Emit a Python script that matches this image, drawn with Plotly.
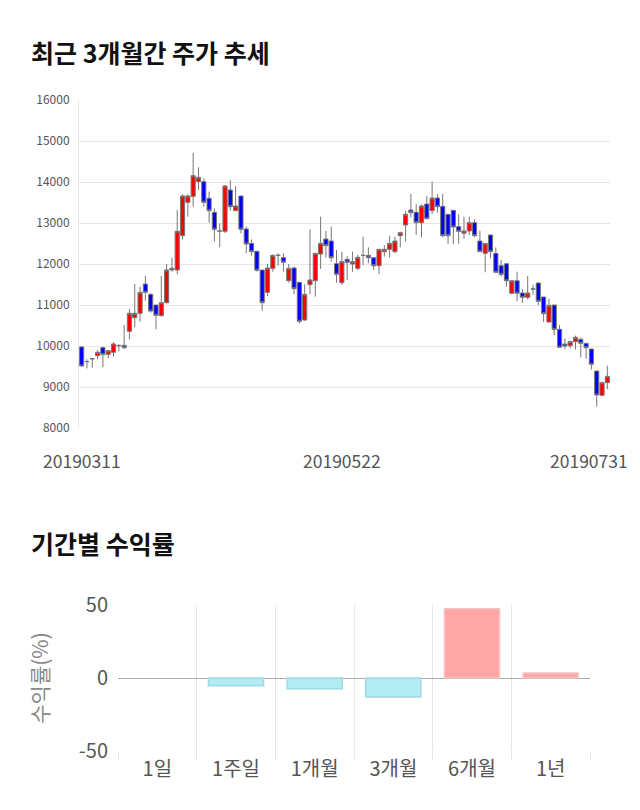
import pandas as pd
import plotly.graph_objects as go

# ---- candlestick data (KRW) ----
opens = [9976, 9620, 9690, 9764, 9960, 9797, 9846, 10008, 10016, 10358,
         10691, 10797, 11512, 11260, 11000, 10740, 11057, 11894, 11854, 12691,
         13504, 13650, 14008, 14008, 13602, 13260, 12805, 12797, 13805, 13301,
         13659, 12854, 12504, 12309, 11854, 11309, 11894, 12211, 12154, 11593,
         11902, 11553, 10634, 11496, 11593, 12244, 12610, 12561, 12008, 11545,
         12114, 12000, 11894, 12211, 12211, 12154, 11959, 12301, 12358, 12301,
         12691, 12951, 13317, 13260, 13008, 13463, 13301, 13610, 13406, 13211,
         13309, 12911, 12748, 12805, 13008, 12561, 12260, 12707, 12260, 11959,
         12008, 11285, 11593, 11293, 11187, 11390, 11537, 11195, 10585, 11000,
         10407, 10049, 10008, 10106, 10163, 10065, 9927, 9390, 8797, 9106]
highs = [10000, 9675, 9700, 9900, 9985, 9900, 10090, 10050, 10512, 10902,
         11512, 11447, 11707, 11285, 11000, 11707, 12000, 12154, 13317, 13700,
         13700, 14715, 14358, 14089, 13764, 13358, 12992, 13927, 14049, 13902,
         13659, 12911, 12602, 12309, 11854, 12000, 12236, 12260, 12260, 12000,
         11935, 11553, 11504, 12846, 12260, 13154, 12805, 12911, 12341, 12301,
         12195, 12301, 12220, 12667, 12406, 12154, 12358, 12463, 12691, 12667,
         12789, 13301, 13707, 13455, 13455, 13659, 14008, 13707, 13707, 13211,
         13309, 13211, 13154, 13154, 13089, 12813, 12504, 12707, 12406, 12098,
         12008, 11593, 11813, 11390, 11707, 11496, 11537, 11195, 11154, 11000,
         10512, 10187, 10130, 10252, 10203, 10065, 9927, 9390, 9130, 9520]
lows = [9500, 9455, 9470, 9675, 9480, 9700, 9740, 9870, 9927, 10163,
        10455, 10593, 11106, 10813, 10407, 10715, 11040, 11813, 11748, 12600,
        13154, 13398, 13805, 13398, 13008, 12553, 12406, 12756, 13301, 13301,
        12748, 12260, 12203, 11813, 10862, 11220, 11813, 11959, 11813, 11545,
        11260, 10553, 10618, 11260, 11203, 11878, 12154, 12057, 11545, 11488,
        11610, 11813, 11854, 11976, 12016, 11854, 11756, 12179, 12154, 12260,
        12406, 12545, 13138, 12707, 12650, 13089, 13220, 13252, 12650, 12488,
        12488, 12496, 12610, 12707, 12650, 12301, 11797, 12138, 11797, 11691,
        11447, 11285, 11089, 11049, 11138, 11252, 10992, 10585, 10585, 10260,
        9967, 9919, 9943, 9911, 9724, 9691, 9423, 8520, 8780, 8950]
closes = [9512, 9620, 9690, 9846, 9790, 9886, 10049, 10008, 9960, 10797,
          10797, 11309, 11309, 10854, 10748, 11057, 11854, 11854, 12797, 13659,
          13659, 14154, 14114, 13504, 13301, 12846, 12805, 13902, 13398, 13415,
          12846, 12488, 12301, 11846, 11057, 11902, 12211, 12211, 12041, 11894,
          11398, 10602, 11260, 11610, 12260, 12504, 12447, 12154, 11748, 12057,
          12041, 12057, 12163, 12211, 12154, 11959, 12358, 12358, 12504, 12561,
          12764, 13211, 13252, 13008, 13415, 13106, 13610, 13398, 12691, 12691,
          12902, 12797, 12805, 13008, 12691, 12301, 12504, 12301, 11797, 11748,
          11593, 11593, 11285, 11187, 11293, 11390, 11089, 10789, 10992, 10407,
          9967, 10000, 10106, 10211, 10065, 9959, 9553, 8805, 9106, 9260]

# trading days 2019-03-11 .. 2019-07-31 (KRX holidays excluded)
holidays = ["2019-05-01", "2019-05-06", "2019-06-06"]
dates = [d.strftime("%Y%m%d") for d in pd.bdate_range("2019-03-11", "2019-07-31")
         if d.strftime("%Y-%m-%d") not in holidays]
date_ticks = ["20190311", "20190522", "20190731"]
y_ticks = [8000, 9000, 10000, 11000, 12000, 13000, 14000, 15000, 16000]

# ---- period returns ----
periods = ["1일", "1주일", "1개월", "3개월", "6개월", "1년"]
returns = [0.0, -5.3, -7.3, -13.0, 47.5, 3.5]
ret_ticks = [-50, 0, 50]

pos = list(range(len(dates)))  # trading-day slot of each date

# page body adds an 8px margin; lay out in window pixels
W, H, OFF = 632, 802, 8
def px(x):
    return (x - OFF) / W
def py(y):
    return 1 - (y - OFF) / H

fig = go.Figure()

fig.add_trace(go.Candlestick(
    x=pos, open=opens, high=highs, low=lows, close=closes, text=dates,
    increasing=dict(fillcolor="#ff0000", line=dict(color="#777777", width=1)),
    decreasing=dict(fillcolor="#0000ff", line=dict(color="#777777", width=1)),
    whiskerwidth=0, xaxis="x", yaxis="y", showlegend=False, hoverinfo="skip"))

bar_fill = ["#ffa6a6" if v > 0 else "#b2ebf2" for v in returns]
bar_line = ["#f2c4c4" if v > 0 else ("#9fdbe5" if v < 0 else "rgba(0,0,0,0)") for v in returns]
fig.add_trace(go.Bar(
    x=periods, y=returns, width=0.7,
    marker=dict(color=bar_fill, line=dict(color=bar_line, width=1.5)),
    xaxis="x2", yaxis="y2", showlegend=False, hoverinfo="skip"))

font_kr = "Noto Sans CJK KR"
annotations = [
    dict(text="<b>최근 3개월간 주가 추세</b>", x=px(29), y=py(52), xref="paper", yref="paper",
         xanchor="left", yanchor="middle", showarrow=False,
         font=dict(family=font_kr, size=25, color="#111111")),
    dict(text="<b>기간별 수익률</b>", x=px(29), y=py(543), xref="paper", yref="paper",
         xanchor="left", yanchor="middle", showarrow=False,
         font=dict(family=font_kr, size=25, color="#111111")),
]
shifts = {"20190311": ("center", 0), "20190522": ("center", -5), "20190731": ("right", 23)}
for d in date_ticks:
    anc, sh = shifts[d]
    annotations.append(dict(text=d, x=dates.index(d), y=py(460), xref="x", yref="paper",
                            xanchor=anc, yanchor="middle", xshift=sh, showarrow=False,
                            font=dict(family=font_kr, size=17.5, color="#555555")))

fig.update_layout(
    width=W, height=H, autosize=False,
    margin=dict(l=0, r=0, t=0, b=0, pad=0),
    paper_bgcolor="white", plot_bgcolor="white",
    font=dict(family=font_kr, color="#555555"),
    annotations=annotations,
    boxgap=0.22, boxgroupgap=0,
    xaxis=dict(domain=[px(79), px(610)], range=[-0.5, len(dates) - 0.5], showgrid=False,
               showticklabels=False, ticks="", rangeslider=dict(visible=False),
               showline=False, zeroline=False, anchor="y", automargin=False),
    yaxis=dict(domain=[py(428), py(100)], range=[8000, 16000],
               tickvals=y_ticks, ticktext=[str(v) for v in y_ticks],
               showgrid=True, gridcolor="#e6e6e6", gridwidth=1, zeroline=False,
               showline=True, linecolor="#e6e6e6", ticks="", automargin=False,
               ticklabelstandoff=6,
               tickfont=dict(size=12, color="#555555"), anchor="x"),
    xaxis2=dict(domain=[px(118), px(590)], type="category", tickson="boundaries",
                showgrid=True, gridcolor="#e6e6e6", ticks="outside", ticklen=8,
                tickcolor="#e6e6e6", showline=False, zeroline=False, automargin=False,
                ticklabelstandoff=4,
                tickfont=dict(size=20, color="#555555"), anchor="y2"),
    yaxis2=dict(domain=[py(751), py(605)], range=[-50, 50],
                tickvals=ret_ticks, ticktext=[str(v) for v in ret_ticks],
                showgrid=True, gridcolor="#e6e6e6",
                zeroline=True, zerolinecolor="#aaaaaa", zerolinewidth=1,
                showline=False, ticks="", automargin=False, ticklabelstandoff=9,
                title=dict(text="수익률(%)", font=dict(size=21, color="#888888"), standoff=24),
                tickfont=dict(size=20, color="#555555"), anchor="x2"),
)

fig.write_html("out.html")
